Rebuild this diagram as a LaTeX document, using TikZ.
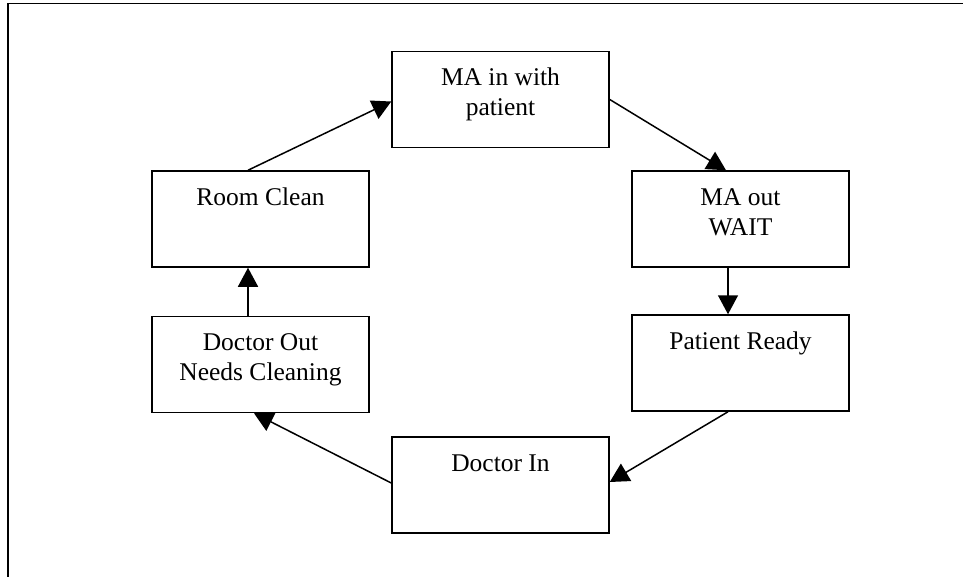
\documentclass[tikz,border=0pt]{standalone}
\usepackage{fontspec}
\setmainfont{Liberation Serif}
\usetikzlibrary{arrows.meta}
\newcommand\boxtext[1]{\parbox[t]{210pt}{\centering #1}}
\begin{document}
\begin{tikzpicture}[x=1pt,y=-1pt,
  stagebox/.style={draw, line width=1.5pt, minimum width=217pt, minimum height=96pt, inner sep=0pt},
  stagetext/.style={anchor=base, inner sep=0pt, font=\fontsize{25.5}{30}\selectfont},
  flow/.style={line width=1.5pt, -{Triangle[length=19pt,width=20pt]}},
  frame/.style={line width=1.5pt}]
\useasboundingbox (0,0) rectangle (963,577);
% outer frame
\coordinate (ftr) at (963,3.5);
\coordinate (ftl) at (8,3.5);
\coordinate (fbl) at (8,577);
\draw[frame] (ftr) -- (ftl) -- (fbl);
% stages
\node[stagebox] (ma)   at (500.5,99.5) {};
\node[stagebox] (mo)   at (740.5,219)  {};
\node[stagebox] (pr)   at (740.5,363)  {};
\node[stagebox] (di)   at (500.5,485)  {};
\node[stagebox] (dout) at (260.5,364.5) {};
\node[stagebox] (rc)   at (260.5,219)  {};
% labels, first baseline 35pt below the top edge
\node[stagetext] (mat)   at ([yshift=-35pt]ma.north)   {\boxtext{MA in with\\patient}};
\node[stagetext] (mot)   at ([yshift=-35pt]mo.north)   {\boxtext{MA out\\WAIT}};
\node[stagetext] (prt)   at ([yshift=-35pt]pr.north)   {\boxtext{Patient Ready}};
\node[stagetext] (dit)   at ([yshift=-35pt]di.north)   {\boxtext{Doctor In}};
\node[stagetext] (doutt) at ([yshift=-35pt]dout.north) {\boxtext{Doctor Out\\Needs Cleaning}};
\node[stagetext] (rct)   at ([yshift=-35pt]rc.north)   {\boxtext{Room Clean}};
% cycle
\draw[flow] ([xshift=-12.5pt]rc.north) -- ([yshift=-2pt]ma.west);
\draw[flow] (ma.east) -- ([xshift=-14.5pt]mo.north);
\draw[flow] ([xshift=-12.5pt]mo.south) -- ([xshift=-12.5pt]pr.north);
\draw[flow] ([xshift=-12.5pt]pr.south) -- ([yshift=3pt]di.east);
\draw[flow] ([yshift=2pt]di.west) -- ([xshift=-6.5pt]dout.south);
\draw[flow] ([xshift=-12.5pt]dout.north) -- ([xshift=-12.5pt]rc.south);
\end{tikzpicture}
\end{document}
